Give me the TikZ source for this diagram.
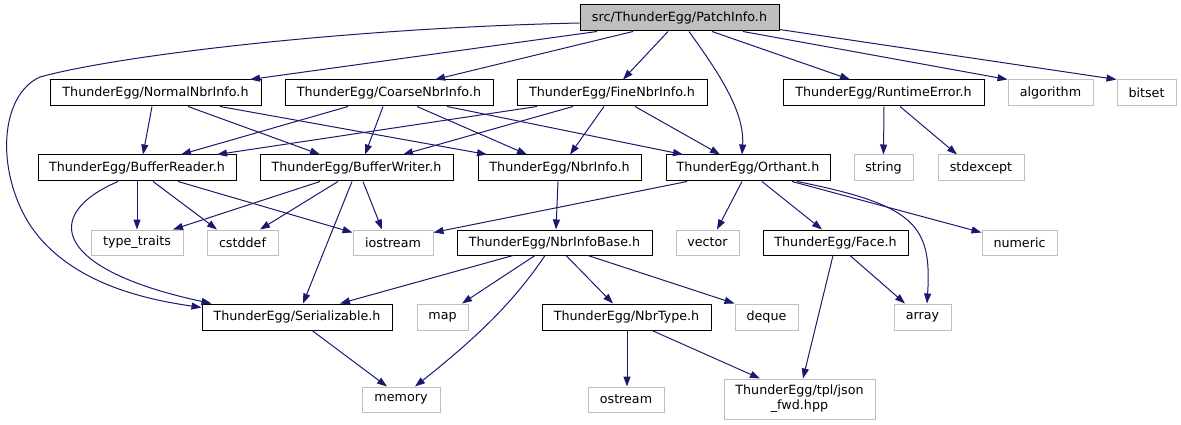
\documentclass[tikz,border=0pt]{standalone}
\usepackage{fontspec}
\setmainfont{DejaVu Sans}
\usetikzlibrary{arrows.meta}
\definecolor{edgeblue}{HTML}{191970}
\definecolor{greyline}{HTML}{BFBFBF}
\tikzset{
  every node/.style={font=\fontsize{12.7}{15}\selectfont, inner sep=0pt},
  filebox/.style={draw=black, line width=1pt, fill=white, minimum height=26pt},
  sysbox/.style={draw=greyline, line width=1pt, fill=white, minimum height=25pt},
  edge/.style={draw=edgeblue, line width=1pt, -{Triangle[length=10pt,width=7pt]}}
}
\begin{document}
\begin{tikzpicture}[x=1pt,y=-1pt]
\useasboundingbox (0,0) rectangle (1181,425);
% row 0
\node[filebox, fill={rgb,255:red,191;green,191;blue,191}, minimum width=199pt] (patch) at (679.5,18) {src/ThunderEgg/PatchInfo.h};
% row 1
\node[filebox, minimum width=211pt] (normal) at (155.5,93) {ThunderEgg/NormalNbrInfo.h};
\node[filebox, minimum width=208pt] (coarse) at (389,93) {ThunderEgg/CoarseNbrInfo.h};
\node[filebox, minimum width=190pt] (fine) at (612,93) {ThunderEgg/FineNbrInfo.h};
\node[filebox, minimum width=201pt] (runtime) at (883.5,93) {ThunderEgg/RuntimeError.h};
\node[sysbox, minimum width=85pt, minimum height=26pt] (algorithm) at (1050.5,93) {algorithm};
\node[sysbox, minimum width=59pt, minimum height=26pt] (bitset) at (1146.5,93) {bitset};
% row 2
\node[filebox, minimum width=198pt] (reader) at (137,168) {ThunderEgg/BufferReader.h};
\node[filebox, minimum width=193pt] (writer) at (356.5,168) {ThunderEgg/BufferWriter.h};
\node[filebox, minimum width=163pt] (nbrinfo) at (559.5,168) {ThunderEgg/NbrInfo.h};
\node[filebox, minimum width=164pt] (orthant) at (748,168) {ThunderEgg/Orthant.h};
\node[sysbox, minimum width=59pt, minimum height=26pt] (string) at (883.5,168) {string};
\node[sysbox, minimum width=86pt, minimum height=26pt] (stdexcept) at (981,168) {stdexcept};
% row 3
\node[sysbox, minimum width=92pt] (typetraits) at (137,242.5) {type\_traits};
\node[sysbox, minimum width=71pt] (cstddef) at (242.5,242.5) {cstddef};
\node[sysbox, minimum width=80pt] (iostream) at (393,242.5) {iostream};
\node[filebox, minimum width=195pt, minimum height=25pt] (nbrinfobase) at (554.5,242.5) {ThunderEgg/NbrInfoBase.h};
\node[sysbox, minimum width=63pt] (vector) at (707.5,242.5) {vector};
\node[filebox, minimum width=145pt, minimum height=25pt] (face) at (835.5,242.5) {ThunderEgg/Face.h};
\node[sysbox, minimum width=75pt] (numeric) at (1019.5,242.5) {numeric};
% row 4
\node[filebox, minimum width=190pt] (serial) at (297,317) {ThunderEgg/Serializable.h};
\node[sysbox, minimum width=51pt, minimum height=26pt] (map) at (442.5,317) {map};
\node[filebox, minimum width=169pt] (nbrtype) at (626.5,317) {ThunderEgg/NbrType.h};
\node[sysbox, minimum width=63pt, minimum height=26pt] (deque) at (766.5,317) {deque};
\node[sysbox, minimum width=57pt, minimum height=26pt] (array) at (922.5,317) {array};
% row 5
\node[sysbox, minimum width=78pt] (memory) at (401,399.5) {memory};
\node[sysbox, minimum width=76pt] (ostream) at (626,399.5) {ostream};
\node[sysbox, minimum width=151pt, minimum height=40pt, align=center] (json) at (799.5,399) {ThunderEgg/tpl/json\\\_fwd.hpp};

% edges from PatchInfo
\draw[edge] ([xshift=-82.5pt]patch.south) -- ([xshift=94.5pt]normal.north);
\draw[edge] ([xshift=-46.5pt]patch.south) -- ([xshift=46pt]coarse.north);
\draw[edge] ([xshift=-11.5pt]patch.south) -- ([xshift=11pt]fine.north);
\draw[edge] ([xshift=9.5pt]patch.south) .. controls +(25,35) and +(3,-45) .. ([xshift=-6pt]orthant.north);
\draw[edge] ([xshift=32.5pt]patch.south) -- ([xshift=-33.5pt]runtime.north);
\draw[edge] ([xshift=63.5pt]patch.south) -- (algorithm.north west);
\draw[edge] ([yshift=2pt]patch.south east) -- (bitset.north west);
\draw[edge] ([yshift=-5pt]patch.west) .. controls (350,28) and (120,55) .. (40,77)
  .. controls (0,95) and (-5,170) .. (30,225)
  .. controls (70,285) and (150,300) .. ([yshift=-4pt]serial.north west);
% NormalNbrInfo
\draw[edge] ([xshift=-3.5pt]normal.south) -- ([xshift=6pt]reader.north);
\draw[edge] ([xshift=32.5pt]normal.south) -- ([xshift=-36.5pt]writer.north);
\draw[edge] ([xshift=64.5pt]normal.south) -- ([xshift=-72.5pt]nbrinfo.north);
% CoarseNbrInfo
\draw[edge] ([xshift=-41pt]coarse.south) -- ([xshift=44pt]reader.north);
\draw[edge] ([xshift=-6pt]coarse.south) -- ([xshift=8.5pt]writer.north);
\draw[edge] ([xshift=28pt]coarse.south) -- ([xshift=-32.5pt]nbrinfo.north);
\draw[edge] ([xshift=58pt]coarse.south) -- ([xshift=-65pt]orthant.north);
% FineNbrInfo
\draw[edge] ([xshift=-75pt]fine.south) -- ([xshift=80pt]reader.north);
\draw[edge] ([xshift=-39pt]fine.south) -- ([xshift=46.5pt]writer.north);
\draw[edge] ([xshift=-8pt]fine.south) -- ([xshift=10.5pt]nbrinfo.north);
\draw[edge] ([xshift=23pt]fine.south) -- ([xshift=-28pt]orthant.north);
% RuntimeError
\draw[edge] ([xshift=0.5pt]runtime.south) -- (string.north);
\draw[edge] ([xshift=16.5pt]runtime.south) -- ([xshift=-24pt]stdexcept.north);
% BufferReader
\draw[edge] (reader.south) -- (typetraits.north);
\draw[edge] ([xshift=16pt]reader.south) -- ([xshift=-25.5pt]cstddef.north);
\draw[edge] ([xshift=41pt]reader.south) -- ([yshift=-3pt]iostream.north west);
\draw[edge] ([xshift=-19pt]reader.south) .. controls (40,215) and (55,270) .. ([xshift=10pt]serial.north west);
% BufferWriter
\draw[edge] ([xshift=-36.5pt]writer.south) -- ([xshift=36pt]typetraits.north);
\draw[edge] ([xshift=-18.5pt]writer.south) -- ([xshift=17.5pt]cstddef.north);
\draw[edge] ([xshift=-4.5pt]writer.south) -- ([xshift=6pt]serial.north);
\draw[edge] ([xshift=6.5pt]writer.south) -- ([xshift=-11pt]iostream.north);
% NbrInfo
\draw[edge] ([xshift=-1.5pt]nbrinfo.south) -- ([xshift=1.5pt]nbrinfobase.north);
% Orthant
\draw[edge] ([xshift=-61pt]orthant.south) -- ([yshift=-3pt]iostream.north east);
\draw[edge] ([xshift=-6pt]orthant.south) -- ([xshift=9.5pt]vector.north);
\draw[edge] ([xshift=14pt]orthant.south) -- ([xshift=-13.5pt]face.north);
\draw[edge] ([xshift=44pt]orthant.south) -- ([yshift=-3pt]numeric.north west);
\draw[edge] ([xshift=49pt]orthant.south) .. controls (915,205) and (932,225) .. ([xshift=4.5pt]array.north);
% NbrInfoBase
\draw[edge] ([xshift=-41.5pt]nbrinfobase.south) -- ([xshift=43pt]serial.north);
\draw[edge] ([xshift=-19.5pt]nbrinfobase.south) -- ([xshift=19.5pt]map.north);
\draw[edge] ([xshift=-9.5pt]nbrinfobase.south) .. controls (515,300) and (480,335) .. ([xshift=14pt]memory.north);
\draw[edge] ([xshift=11.5pt]nbrinfobase.south) -- ([xshift=-13.5pt]nbrtype.north);
\draw[edge] ([xshift=33.5pt]nbrinfobase.south) -- (deque.north west);
% Serializable
\draw[edge] ([xshift=15pt]serial.south) -- ([xshift=-14pt]memory.north);
% NbrType
\draw[edge] ([xshift=0.5pt]nbrtype.south) -- ([xshift=1pt]ostream.north);
\draw[edge] ([xshift=25.5pt]nbrtype.south) -- ([xshift=-39.5pt]json.north);
% Face
\draw[edge] ([xshift=-2.5pt]face.south) -- ([xshift=3.5pt]json.north);
\draw[edge] ([xshift=14.5pt]face.south) -- ([xshift=-17.5pt]array.north);
\end{tikzpicture}
\end{document}
